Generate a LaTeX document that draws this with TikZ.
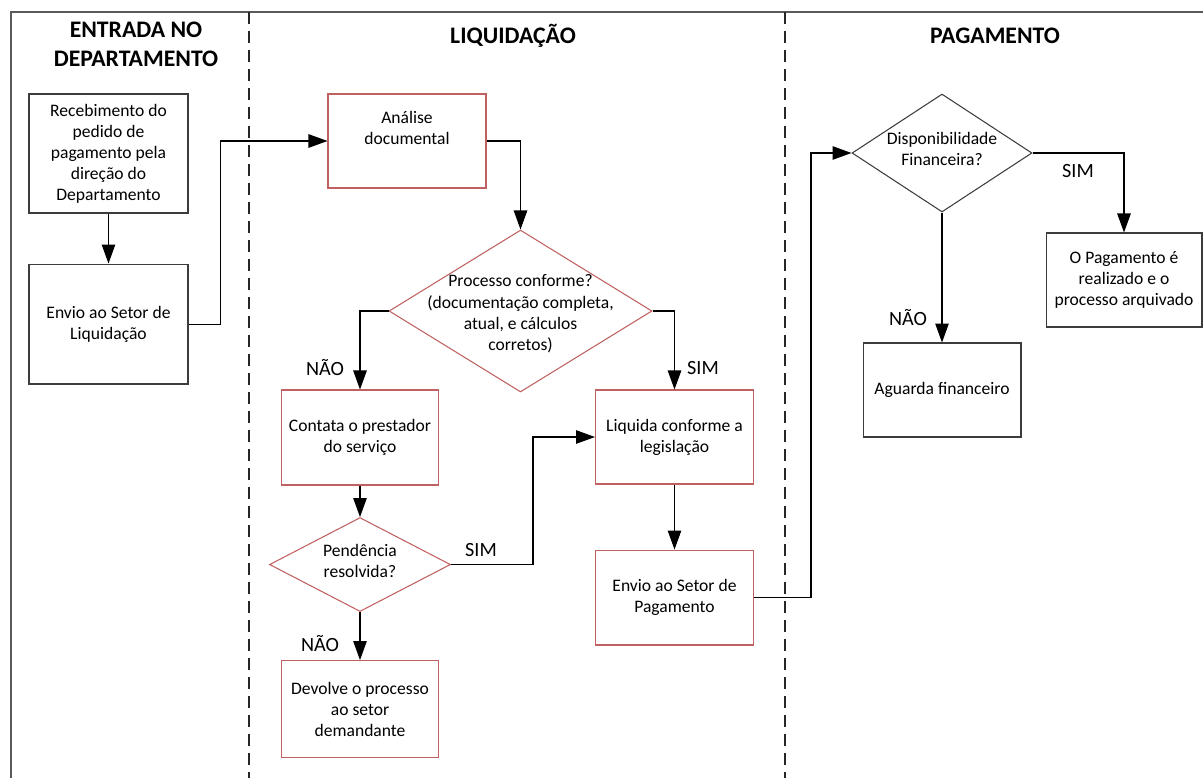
\documentclass[tikz,border=0pt]{standalone}
\usepackage{fontspec}
\setmainfont{Carlito}
\usepackage{tikz}
\usetikzlibrary{arrows.meta,
                positioning,
                shapes.geometric}
\definecolor{boxgray}{RGB}{60,60,60}
\definecolor{boxred}{RGB}{192,96,96}
\definecolor{framegray}{RGB}{90,90,90}
% text of a decision, kept out of the size of the diamond
\newcommand{\dtext}[2][-2.5pt]{\raisebox{#1}{\makebox[0pt]{\smash{\begin{tabular}{@{}c@{}}#2\end{tabular}}}}}

\begin{document}
\begin{tikzpicture}[
    x=0.02cm, y=-0.02cm,
    every node/.style={
        font=\fontsize{10}{12}\selectfont
    },
    proc/.style={
        draw=boxgray, rectangle,
        line width=0.6pt,
        minimum width=3.16cm,
        minimum height=1.9cm,
        align=center
    },
    procred/.style={proc, draw=boxred},
    decision/.style={
        draw=boxred, diamond,
        line width=0.6pt,
        inner sep=0pt
    },
    lanetitle/.style={font=\fontsize{13.5}{16.5}\selectfont\bfseries, align=center},
    answer/.style={font=\fontsize{11.5}{14}\selectfont, anchor=base},
    flow/.style={-{Triangle[length=0.38cm,width=0.27cm]}, line width=0.6pt},
    lane/.style={draw=black!85, line width=0.6pt, dash pattern=on 0.24cm off 0.14cm},
    frame/.style={draw=framegray, line width=0.9pt}
]
\useasboundingbox (0,0) rectangle (1203,778);

% lanes
\draw[frame] (11,778) -- (11,12) -- (1203,12);
\draw[lane] (249,12) -- (249,778);
\draw[lane] (785,12) -- (785,778);
\node[lanetitle] (tentrada) at (136,44) {ENTRADA NO\\DEPARTAMENTO};
\node[lanetitle, anchor=base] (tliquida) at (513,43) {LIQUIDAÇÃO};
\node[lanetitle, anchor=base] (tpagam) at (995,43) {PAGAMENTO};

% entrada
\node[proc, minimum width=3.18cm, minimum height=2.38cm] (recebe) at (108.5,153.5)
    {Recebimento do\\pedido de\\pagamento pela\\direção do\\Departamento};
\node[proc, minimum width=3.18cm, minimum height=2.4cm, below=1cm of recebe] (envioliq)
    {Envio ao Setor de\\Liquidação};

% liquidacao
\node[procred, minimum height=1.88cm] (analise) at (407,141)
    {\raisebox{0pt}[\height][\dimexpr\depth+0.44cm]{\begin{tabular}{@{}c@{}}Análise\\documental\end{tabular}}};
\node[decision, minimum width=5.26cm, minimum height=3.24cm] (conforme) at (520.5,311)
    {\dtext[-0.31cm]{Processo conforme?\\(documentação completa,\\atual, e cálculos\\corretos)}};
\node[procred, minimum width=3.14cm] (contata) at (360,437.5)
    {Contata o prestador\\do serviço};
\node[decision, minimum width=3.62cm, minimum height=1.88cm, below=0.63cm of contata] (pendencia)
    {\dtext{Pendência\\resolvida?}};
\node[procred, minimum width=3.14cm, minimum height=1.94cm, below=0.96cm of pendencia] (devolve)
    {Devolve o processo\\ao setor\\demandante};
\node[procred, minimum height=1.88cm] (liquida) at (674.5,437)
    {Liquida conforme a\\legislação};
\node[procred, below=1.3cm of liquida] (enviopag)
    {Envio ao Setor de\\Pagamento};

% pagamento
\node[decision, draw=boxgray, minimum width=3.6cm, minimum height=2.36cm] (dispon) at (942,153)
    {\dtext{Disponibilidade\\Financeira?}};
\node[proc, minimum height=1.88cm, below=2.6cm of dispon] (aguarda) {Aguarda financeiro};
\node[proc, minimum width=3.12cm, minimum height=1.88cm] (pagamento) at (1124,280)
    {O Pagamento é\\realizado e o\\processo arquivado};

\node[answer] (nao1) at (325,375) {NÃO};
\node[answer] (sim1) at (703,374) {SIM};
\node[answer] (sim2) at (481,556) {SIM};
\node[answer] (nao2) at (320,651) {NÃO};
\node[answer] (sim3) at (1078,177) {SIM};
\node[answer] (nao3) at (908,325) {NÃO};

\draw[flow] (recebe) -- (envioliq);
\draw[flow] (envioliq.east) -- ++(32,0) |- (analise.west);
\draw[flow] (analise.east) -| (conforme.north);
\draw[flow] (conforme.west) -| (contata.north);
\draw[flow] (conforme.east) -| (liquida.north);
\draw[flow] (contata) -- (pendencia);
\draw[flow] (pendencia.east) -- ++(82,0) |- (liquida.west);
\draw[flow] (pendencia) -- (devolve);
\draw[flow] (liquida) -- (enviopag);
\draw[flow] (enviopag.east) -- ++(57,0) |- (dispon.west);
\draw[flow] (dispon.east) -| (pagamento.north);
\draw[flow] (dispon) -- (aguarda);
\end{tikzpicture}
\end{document}
